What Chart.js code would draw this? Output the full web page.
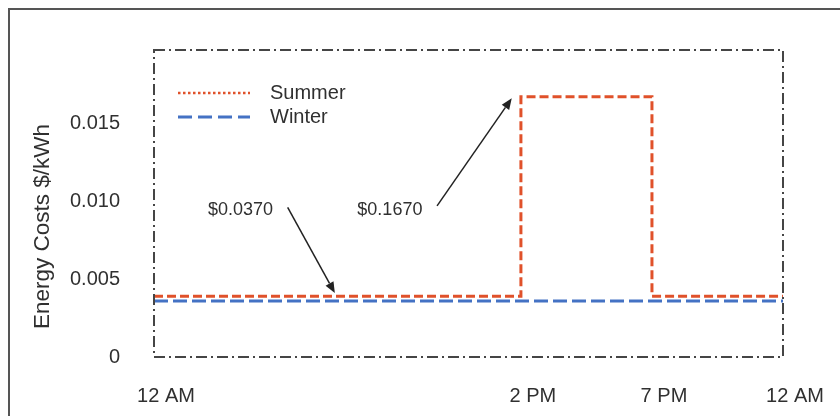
<!DOCTYPE html>
<html>
<head>
<meta charset="utf-8">
<script src="https://cdn.jsdelivr.net/npm/chart.js@4/dist/chart.umd.min.js"></script>
<style>
  html, body { margin: 0; padding: 0; background: #ffffff; }
  canvas { display: block; }
</style>
</head>
<body>
<canvas id="c" width="840" height="416"></canvas>
<script>
// ---- data ----
const seriesNames = ["Summer", "Winter"];
const summerHours = [0, 14, 19, 24];
const summerCosts = [0.0039, 0.0167, 0.0039, 0.0039];
const winterHours = [0, 24];
const winterCosts = [0.0036, 0.0036];
const xTickHours = [0, 14, 19, 24];
const xTickLabels = ["12 AM", "2 PM", "7 PM", "12 AM"];
const yTickValues = [0, 0.005, 0.010, 0.015];
const yTitle = "Energy Costs $/kWh";
// annotations: label, label position (hour, cost), arrow tail (hour, cost), arrow head (hour, cost)
const noteLabels = ["$0.0370", "$0.1670"];
const noteLabelAt = [[3.3, 0.0094], [9.0, 0.0094]];
const noteTail = [[5.1, 0.0096], [10.8, 0.0097]];
const noteHead = [[6.9, 0.0041], [13.65, 0.0166]];

const RED = "#e0512a";
const BLUE = "#4472c4";
const TEXT = "#303030";
const FONT = "'Liberation Sans', Arial, sans-serif";

const decor = {
  id: "decor",
  beforeDraw(chart) {
    const ctx = chart.ctx;
    ctx.save();
    ctx.fillStyle = "#ffffff";
    ctx.fillRect(0, 0, chart.width, chart.height);
    // outer frame
    ctx.strokeStyle = "#555555";
    ctx.lineWidth = 2;
    ctx.beginPath();
    ctx.moveTo(9, chart.height + 5);
    ctx.lineTo(9, 9);
    ctx.lineTo(chart.width + 5, 9);
    ctx.stroke();
    ctx.restore();
  },
  afterDatasetsDraw(chart) {
    const ctx = chart.ctx;
    const a = chart.chartArea;
    const xs = chart.scales.x, ys = chart.scales.y;
    ctx.save();
    // dash-dot plot box
    ctx.strokeStyle = "#454545";
    ctx.lineWidth = 2;
    ctx.setLineDash([11, 4, 2, 4]);
    ctx.strokeRect(a.left, a.top, a.right - a.left, a.bottom - a.top);
    ctx.setLineDash([]);

    // y title
    ctx.save();
    ctx.translate(43, (a.top + a.bottom) / 2 + 23);
    ctx.rotate(-Math.PI / 2);
    ctx.fillStyle = TEXT;
    ctx.font = "22.5px " + FONT;
    ctx.textAlign = "center";
    ctx.textBaseline = "middle";
    ctx.fillText(yTitle, 0, 0);
    ctx.restore();

    // legend
    const lx0 = a.left + 24, lx1 = a.left + 96, tx = a.left + 116;
    const ly = [a.top + 43, a.top + 67];
    ctx.lineWidth = 2.5;
    ctx.strokeStyle = RED;
    ctx.setLineDash([2.5, 2.5]);
    ctx.beginPath(); ctx.moveTo(lx0, ly[0]); ctx.lineTo(lx1, ly[0]); ctx.stroke();
    ctx.lineWidth = 3;
    ctx.strokeStyle = BLUE;
    ctx.setLineDash([14, 6]);
    ctx.beginPath(); ctx.moveTo(lx0, ly[1]); ctx.lineTo(lx1, ly[1]); ctx.stroke();
    ctx.setLineDash([]);
    ctx.fillStyle = TEXT;
    ctx.font = "20px " + FONT;
    ctx.textAlign = "left";
    ctx.textBaseline = "middle";
    ctx.fillText(seriesNames[0], tx, ly[0]);
    ctx.fillText(seriesNames[1], tx, ly[1]);

    // annotations with arrows
    ctx.font = "18px " + FONT;
    ctx.textAlign = "center";
    for (let i = 0; i < noteLabels.length; i++) {
      const px = xs.getPixelForValue(noteLabelAt[i][0]);
      const py = ys.getPixelForValue(noteLabelAt[i][1]);
      ctx.fillStyle = TEXT;
      ctx.fillText(noteLabels[i], px, py);
      const x0 = xs.getPixelForValue(noteTail[i][0]), y0 = ys.getPixelForValue(noteTail[i][1]);
      const x1 = xs.getPixelForValue(noteHead[i][0]), y1 = ys.getPixelForValue(noteHead[i][1]);
      const ang = Math.atan2(y1 - y0, x1 - x0);
      const hl = 11, hw = 4.5;
      const bx = x1 - hl * Math.cos(ang), by = y1 - hl * Math.sin(ang);
      ctx.strokeStyle = "#222222";
      ctx.lineWidth = 1.5;
      ctx.beginPath(); ctx.moveTo(x0, y0); ctx.lineTo(bx, by); ctx.stroke();
      ctx.fillStyle = "#222222";
      ctx.beginPath();
      ctx.moveTo(x1, y1);
      ctx.lineTo(bx + hw * Math.sin(ang), by - hw * Math.cos(ang));
      ctx.lineTo(bx - hw * Math.sin(ang), by + hw * Math.cos(ang));
      ctx.closePath();
      ctx.fill();
    }
    ctx.restore();
  }
};

new Chart(document.getElementById("c"), {
  type: "line",
  data: {
    datasets: [
      {
        label: seriesNames[1],
        data: winterHours.map((h, i) => ({ x: h, y: winterCosts[i] })),
        borderColor: BLUE,
        borderWidth: 3,
        borderDash: [14, 5],
        pointRadius: 0,
        fill: false
      },
      {
        label: seriesNames[0],
        data: summerHours.map((h, i) => ({ x: h, y: summerCosts[i] })),
        borderColor: RED,
        borderWidth: 3,
        borderDash: [9, 4],
        stepped: "before",
        pointRadius: 0,
        fill: false
      }
    ]
  },
  options: {
    responsive: false,
    animation: false,
    layout: { padding: { left: 0, top: 50, right: 57, bottom: 0 } },
    plugins: { legend: { display: false }, tooltip: { enabled: false } },
    scales: {
      x: {
        type: "linear",
        min: 0,
        max: 24,
        afterBuildTicks: s => { s.ticks = xTickHours.map(v => ({ value: v })); },
        afterFit: s => { s.height = 59; },
        grid: { display: false, drawTicks: false },
        border: { display: false },
        ticks: {
          padding: 27,
          labelOffset: 12,
          maxRotation: 0,
          autoSkip: false,
          color: TEXT,
          font: { family: FONT, size: 20 },
          callback: (v) => { const i = xTickHours.indexOf(v); return i >= 0 ? xTickLabels[i] : ""; }
        }
      },
      y: {
        min: 0,
        max: 0.0197,
        afterBuildTicks: s => { s.ticks = yTickValues.map(v => ({ value: v })); },
        afterFit: s => { s.width = 154; },
        grid: { display: false, drawTicks: false },
        border: { display: false },
        ticks: {
          padding: 34,
          color: TEXT,
          font: { family: FONT, size: 20 },
          callback: (v) => (v === 0 ? "0" : v.toFixed(3))
        }
      }
    }
  },
  plugins: [decor]
});
</script>
</body>
</html>
